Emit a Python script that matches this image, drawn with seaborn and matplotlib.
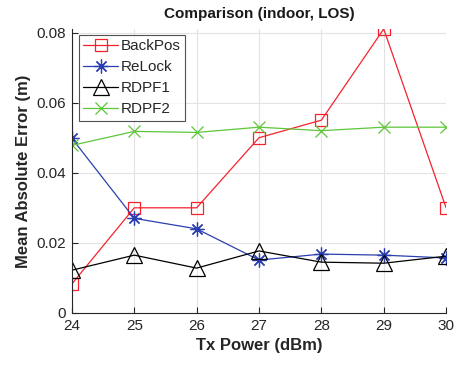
import matplotlib
matplotlib.use("Agg")
import matplotlib.pyplot as plt
import seaborn as sns
import pandas as pd

tx_power = [24, 25, 26, 27, 28, 29, 30]
backpos = [0.0083, 0.030, 0.030, 0.050, 0.055, 0.081, 0.030]
relock = [0.0498, 0.027, 0.024, 0.0151, 0.0168, 0.0165, 0.0157]
rdpf1 = [0.0122, 0.0165, 0.0128, 0.0177, 0.0145, 0.0142, 0.0162]
rdpf2 = [0.0478, 0.0518, 0.0515, 0.0530, 0.0520, 0.0530, 0.0530]
series_names = ["BackPos", "ReLock", "RDPF1", "RDPF2"]
yticks = [0, 0.02, 0.04, 0.06, 0.08]
ytick_labels = ["0", "0.02", "0.04", "0.06", "0.08"]

rows = []
for name, vals in zip(series_names, [backpos, relock, rdpf1, rdpf2]):
    for x, v in zip(tx_power, vals):
        rows.append({"Tx": x, "MAE": v, "Method": name})
df = pd.DataFrame(rows)

sns.set_theme(style="white")
plt.rcParams['font.family'] = ['Liberation Sans', 'DejaVu Sans']

colors = {"BackPos": "#f5222d", "ReLock": "#2b3fb0", "RDPF1": "#000000", "RDPF2": "#5ec63a"}
markers = {"BackPos": "s", "ReLock": (8, 2, 0), "RDPF1": "^", "RDPF2": "x"}
msizes = {"BackPos": 9, "ReLock": 10, "RDPF1": 12, "RDPF2": 9}

fig = plt.figure(figsize=(4.58, 3.65), dpi=100)
ax = fig.add_axes([0.157, 0.1425, 0.817, 0.778])

for name in series_names:
    sub = df[df["Method"] == name]
    sns.lineplot(data=sub, x="Tx", y="MAE", ax=ax, color=colors[name],
                 marker=markers[name], markersize=msizes[name],
                 markerfacecolor="none", markeredgecolor=colors[name],
                 markeredgewidth=0.9, linewidth=0.9, label=name)

ax.set_xlim(24, 30)
ax.set_ylim(0, 0.081)
ax.set_xticks(tx_power)
ax.set_yticks(yticks)
ax.set_yticklabels(ytick_labels)
ax.grid(True, color="#e3e3e3", linewidth=0.8)
ax.set_axisbelow(True)
for s in ["top", "right"]:
    ax.spines[s].set_visible(False)
for s in ["left", "bottom"]:
    ax.spines[s].set_color("#262626")
    ax.spines[s].set_linewidth(0.8)
ax.tick_params(direction="in", length=4, width=0.8, colors="#262626",
               labelsize=11, left=True, bottom=True, pad=4)
ax.set_xlabel("Tx Power (dBm)", fontsize=12, fontweight="bold", color="#262626")
ax.set_ylabel("Mean Absolute Error (m)", fontsize=12, fontweight="bold", color="#262626")
ax.set_title("Comparison (indoor, LOS)", fontsize=11, fontweight="bold", color="#1a1a1a", pad=8)

leg = ax.legend(loc="upper left", bbox_to_anchor=(0.01, 0.99), fontsize=11,
                frameon=True, fancybox=False, edgecolor="#262626",
                borderpad=0.3, labelspacing=0.45, handlelength=2.3, handletextpad=0.15,
                borderaxespad=0.2)
leg.get_frame().set_linewidth(0.8)
for t in leg.get_texts():
    t.set_color("#262626")

fig.savefig("out.png", dpi=100)
